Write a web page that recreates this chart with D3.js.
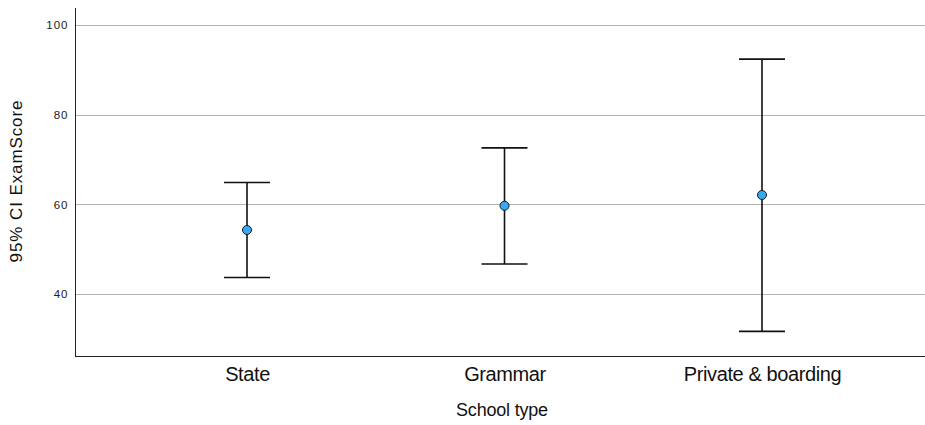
<!DOCTYPE html>
<html>
<head>
<meta charset="utf-8">
<script src="https://cdn.jsdelivr.net/npm/d3@7"></script>
<style>
  body { margin: 0; background: #fff; }
  svg { display: block; font-family: "Liberation Sans", Arial, sans-serif; }
</style>
</head>
<body>
<script>
// data
var categories = ['State', 'Grammar', 'Private & boarding'];
var means = [54.3, 59.7, 62.1];
var lower = [43.7, 46.7, 31.7];
var upper = [64.9, 72.6, 92.4];
var yTicks = [40, 60, 80, 100];

var width = 925,
    height = 425,
    plotLeft = 75,
    plotTop = 8,
    plotBottom = 356;

var svg = d3.select('body').append('svg')
  .attr('width', width)
  .attr('height', height);

var x = d3.scalePoint()
  .domain(categories)
  .range([plotLeft, 934])
  .padding(0.668);

var y = d3.scaleLinear()
  .domain([26.2, 103.8])
  .range([plotBottom, plotTop]);

// gridlines
svg.append('g')
  .selectAll('line')
  .data(yTicks)
  .enter()
  .append('line')
  .attr('x1', plotLeft)
  .attr('x2', width)
  .attr('y1', d => Math.round(y(d)) + 0.5)
  .attr('y2', d => Math.round(y(d)) + 0.5)
  .attr('stroke', '#b3b3b3')
  .attr('stroke-width', 1);

// y axis
var yAxis = svg.append('g')
  .attr('transform', `translate(${plotLeft + 0.5},0)`)
  .call(d3.axisLeft(y).tickValues(yTicks).tickSize(0).tickPadding(7));
yAxis.select('.domain').attr('stroke', '#222').attr('d', `M0,${plotTop}V${plotBottom}`);
yAxis.selectAll('text')
  .attr('font-size', 11.5)
  .attr('letter-spacing', '1px')
  .attr('fill', '#222')
  .attr('font-family', '"Liberation Sans", Arial, sans-serif');

// x axis
var xAxis = svg.append('g')
  .attr('transform', `translate(0,${plotBottom + 0.5})`)
  .call(d3.axisBottom(x).tickSize(0));
xAxis.select('.domain').attr('stroke', '#222').attr('d', `M${plotLeft},0H${width}`);
xAxis.selectAll('text')
  .attr('y', 24)
  .attr('dy', 0)
  .attr('font-size', 20)
  .attr('letter-spacing', '-0.4px')
  .attr('fill', '#111')
  .attr('font-family', '"Liberation Sans", Arial, sans-serif');

// axis titles
svg.append('text')
  .attr('x', 502)
  .attr('y', 416)
  .attr('text-anchor', 'middle')
  .attr('font-size', 18)
  .attr('letter-spacing', '-0.2px')
  .attr('fill', '#111')
  .text('School type');

svg.append('text')
  .attr('transform', `translate(22,181) rotate(-90)`)
  .attr('text-anchor', 'middle')
  .attr('font-size', 17)
  .attr('letter-spacing', '0.9px')
  .attr('fill', '#111')
  .text('95% CI ExamScore');

// error bars
var bars = svg.append('g')
  .selectAll('g')
  .data(categories)
  .enter()
  .append('g');

var capW = 23;

bars.append('line')
  .attr('x1', d => x(d))
  .attr('x2', d => x(d))
  .attr('y1', (d, i) => y(upper[i]))
  .attr('y2', (d, i) => y(lower[i]))
  .attr('stroke', '#111')
  .attr('stroke-width', 1.6);

bars.append('line')
  .attr('x1', d => x(d) - capW)
  .attr('x2', d => x(d) + capW)
  .attr('y1', (d, i) => y(upper[i]))
  .attr('y2', (d, i) => y(upper[i]))
  .attr('stroke', '#111')
  .attr('stroke-width', 1.6);

bars.append('line')
  .attr('x1', d => x(d) - capW)
  .attr('x2', d => x(d) + capW)
  .attr('y1', (d, i) => y(lower[i]))
  .attr('y2', (d, i) => y(lower[i]))
  .attr('stroke', '#111')
  .attr('stroke-width', 1.6);

bars.append('circle')
  .attr('cx', d => x(d))
  .attr('cy', (d, i) => y(means[i]))
  .attr('r', 4.5)
  .attr('fill', '#36a9f2')
  .attr('stroke', '#1a1a1a')
  .attr('stroke-width', 1);
</script>
</body>
</html>
